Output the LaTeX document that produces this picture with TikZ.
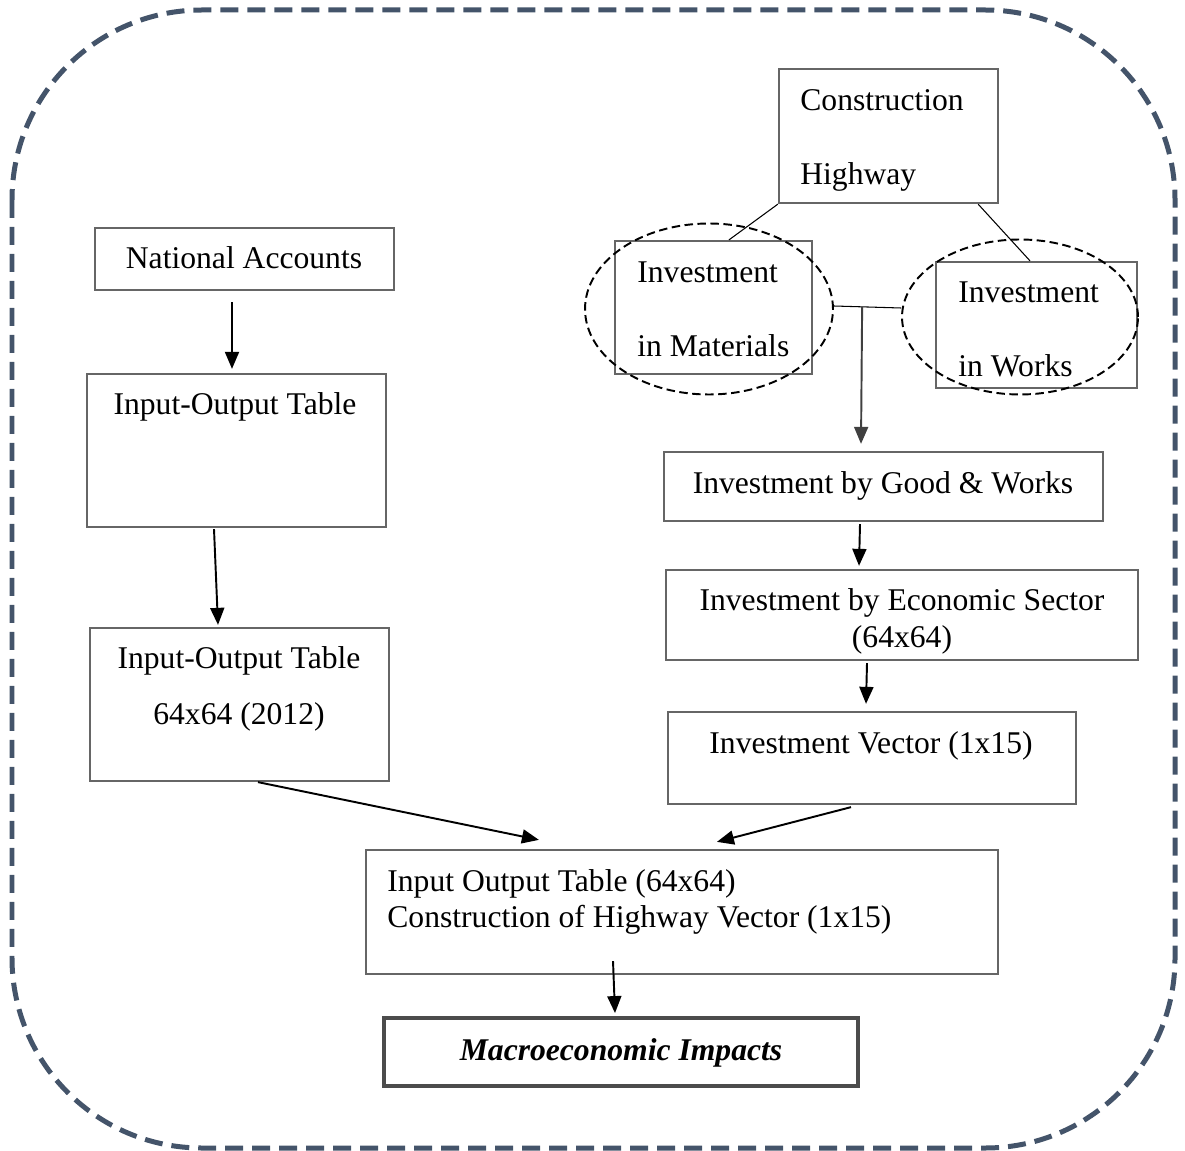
\documentclass[tikz,border=0pt]{standalone}
\usepackage{fontspec}
\setmainfont{Liberation Serif}
\usetikzlibrary{arrows.meta,calc,shapes.geometric}
\definecolor{frame}{HTML}{44546A}
\definecolor{boxgray}{HTML}{666666}
\begin{document}
\begin{tikzpicture}[x=0.02cm,y=-0.02cm,
  every node/.style={font=\fontsize{18}{22}\selectfont},
  box/.style={draw=boxgray,line width=1.3pt,rectangle,inner sep=0pt},
  txt/.style={inner sep=0pt,yshift=-0.12cm},
  oval/.style={draw=black,line width=1.1pt,dash pattern=on 0.17cm off 0.09cm,ellipse,inner sep=0pt},
  arr/.style={-{Triangle[length=0.34cm,width=0.28cm]},line width=1.1pt,black},
  thin/.style={line width=0.6pt,black}]
\useasboundingbox (0,0) rectangle (1185,1151);
% outer frame
\draw[frame,line width=0.1cm,dash pattern=on 0.36cm off 0.18cm,rounded corners=3.8cm] (12,10) rectangle (1175,1148);

% boxes
\node[box,minimum width=5.98cm,minimum height=1.24cm] (na) at (244.5,259) {};
\node[box,minimum width=5.98cm,minimum height=3.06cm] (iot1) at (236.5,450.5) {};
\node[box,minimum width=5.98cm,minimum height=3.06cm] (iot2) at (239.5,704.5) {};
\node[box,minimum width=4.38cm,minimum height=2.68cm] (ch) at (888.5,136) {};
\node[box,minimum width=3.94cm,minimum height=2.66cm] (im) at (713.5,307.5) {};
\node[box,minimum width=4.02cm,minimum height=2.52cm] (iw) at (1036.5,325) {};
\node[box,minimum width=8.78cm,minimum height=1.38cm] (igw) at (883.5,486.5) {};
\node[box,minimum width=9.44cm,minimum height=1.80cm] (ies) at (902,615) {};
\node[box,minimum width=8.16cm,minimum height=1.84cm] (iv) at (872,758) {};
\node[box,minimum width=12.64cm,minimum height=2.48cm] (iot3) at (682,912) {};
\node[box,line width=2.2pt,draw=black!70,minimum width=9.48cm,minimum height=1.36cm] (mi) at (621,1052) {};

% ellipses
\node[oval,minimum width=4.96cm,minimum height=3.42cm] (e1) at (709,309) {};
\node[oval,minimum width=4.72cm,minimum height=3.10cm] (e2) at (1020,317) {};

% texts
\node[txt,anchor=mid] (tna) at (244,258) {National Accounts};
\node[txt,anchor=mid] (tiot1) at (235,404) {Input-Output Table};
\node[txt,anchor=mid] (tiot2a) at (239,658) {Input-Output Table};
\node[txt,anchor=mid] (tiot2b) at (239,714) {64x64 (2012)};
\node[txt,anchor=mid west] (tcha) at (800,100) {Construction};
\node[txt,anchor=mid west] (tchb) at (800,174) {Highway};
\node[txt,anchor=mid west] (tima) at (637,272) {Investment};
\node[txt,anchor=mid west] (timb) at (637,346) {in Materials};
\node[txt,anchor=mid west] (tiwa) at (958,292) {Investment};
\node[txt,anchor=mid west] (tiwb) at (958,366) {in Works};
\node[txt,anchor=mid] (tigw) at (883,483) {Investment by Good \& Works};
\node[txt,anchor=mid] (tiesa) at (902,600) {Investment by Economic Sector};
\node[txt,anchor=mid] (tiesb) at (902,637) {(64x64)};
\node[txt,anchor=mid] (tiv) at (871,743) {Investment Vector (1x15)};
\node[txt,anchor=mid west] (tiot3a) at (387,881) {Input Output Table (64x64)};
\node[txt,anchor=mid west] (tiot3b) at (387,917) {Construction of Highway Vector (1x15)};
\node[txt,anchor=mid,font=\fontsize{18}{22}\selectfont\bfseries\itshape] (tmi) at (621,1050) {Macroeconomic Impacts};

% connectors top
\draw[thin] (ch.south west) -- ($(im.north)+(15.5,0)$);
\draw[thin] ($(ch.south east)+(-21,0)$) -- ($(iw.north)+(-6.5,0)$);
\draw[thin] ($(e1.east)+(0,-3)$) -- coordinate[pos=0.42] (j) ($(e2.west)+(0,-9)$);
\draw[arr,black!75] (j) -- ($(igw.north)+(-22.5,-7)$);

% arrows
\draw[arr] ($(na.south)+(-12.5,11)$) -- ($(iot1.north)+(-4.5,-4)$);
\draw[arr] ($(iot1.south)+(-22.5,1)$) -- ($(iot2.north)+(-21.5,-2)$);
\draw[arr] ($(iot2.south)+(18.5,0)$) -- ($(iot3.north west)+(174,-9)$);
\draw[arr] ($(iv.south)+(-21,2)$) -- ($(iot3.north west)+(352,-7)$);
\draw[arr] ($(igw.south)+(-23.5,2)$) -- ($(ies.north)+(-43,-3)$);
\draw[arr] ($(ies.south)+(-35,2)$) -- ($(iv.north)+(-6,-7)$);
\draw[arr] ($(iot3.south)+(-69,-14)$) -- ($(mi.north)+(-6,-3)$);
\end{tikzpicture}
\end{document}
